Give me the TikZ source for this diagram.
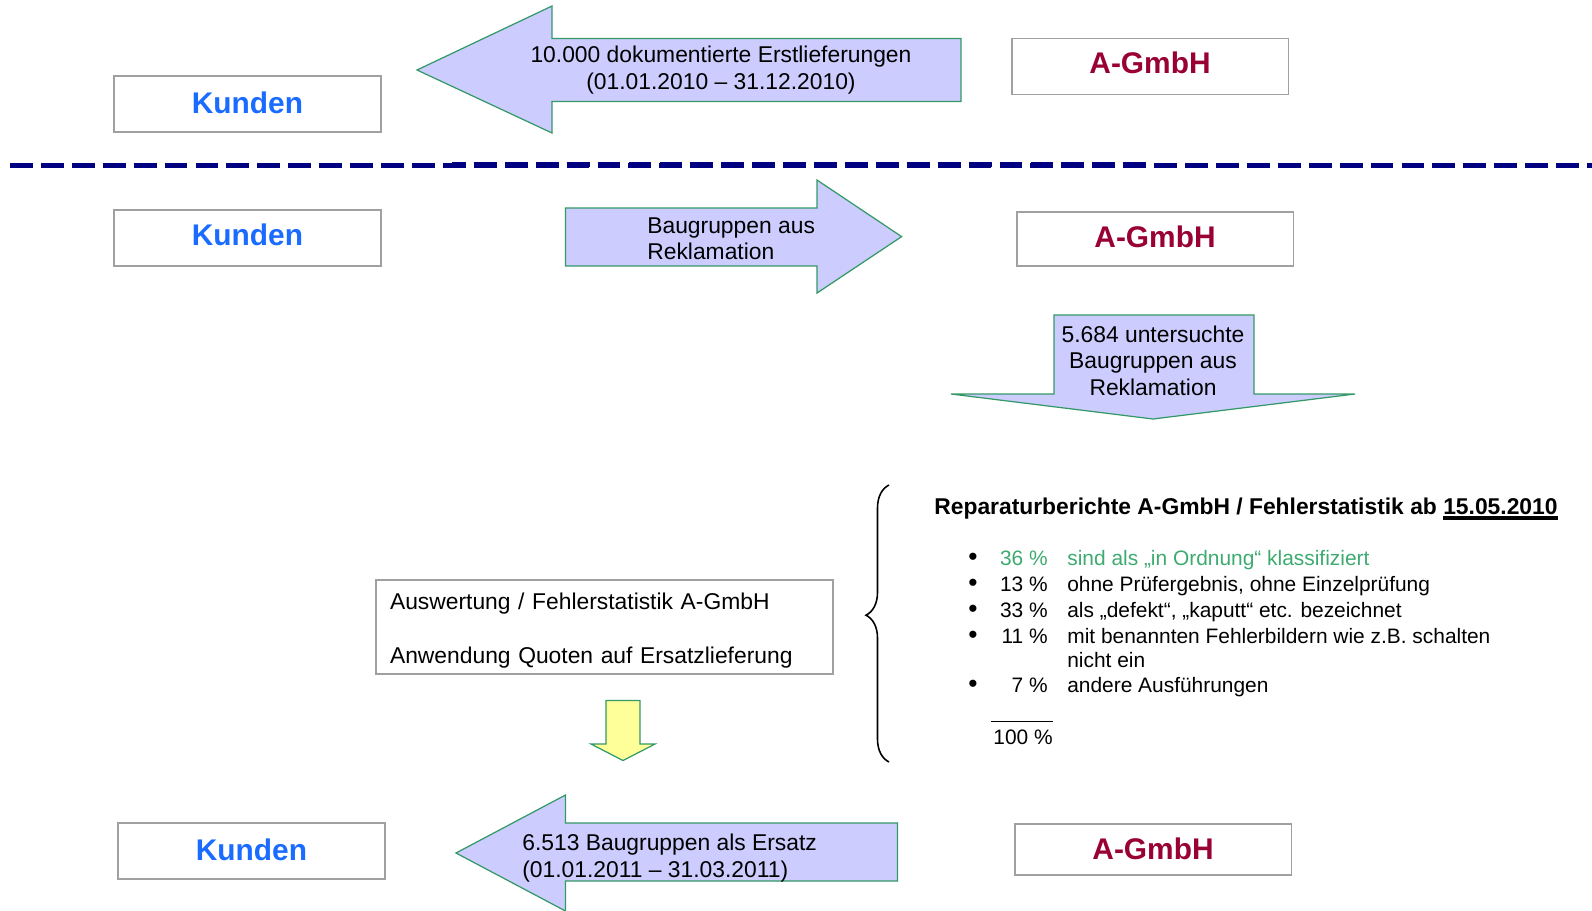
\documentclass[tikz,border=0pt]{standalone}
\usepackage{fontspec}
\setmainfont{Liberation Sans}
\usetikzlibrary{decorations.pathreplacing}

\definecolor{arrowfill}{HTML}{CCCCFF}
\definecolor{arrowline}{HTML}{339966}
\definecolor{kundenblue}{HTML}{1A6BFF}
\definecolor{gmbhred}{HTML}{990033}
\definecolor{boxgray}{HTML}{A0A0A0}
\definecolor{okgreen}{HTML}{3DAA70}
\definecolor{linenavy}{HTML}{000080}
\definecolor{hintyellow}{HTML}{FFFF99}

\newcommand{\ulthick}[1]{\leavevmode\vtop{\hbox{#1}\kern1.2pt\hrule height 1.8pt}}

\begin{document}
\begin{tikzpicture}[x=0.02cm, y=-0.02cm,
  every node/.style={inner sep=0pt},
  partner/.style={draw=boxgray, line width=1.1pt, minimum width=5.34cm, minimum height=1.12cm,
    text height=12.3pt, text depth=0pt, font=\bfseries\fontsize{17}{20}\selectfont},
  kunde/.style={partner, text=kundenblue},
  gmbh/.style={partner, text=gmbhred, minimum width=5.54cm},
  flow/.style={draw=arrowline, fill=arrowfill, line width=0.7pt},
  arrowtext/.style={font=\fontsize{13}{15}\selectfont},
  stat/.style={anchor=west, font=\fontsize{11.9}{14}\selectfont, text height=1.5ex, text depth=.25ex},
  navydash/.style={linenavy, dash pattern=on 13pt off 4.6pt}]
  \useasboundingbox (0,0) rectangle (1592,910);

  % Erstlieferung
  \node[kunde, text depth=1.3pt] (kunden1) at (247.5,104) {Kunden};
  \node[gmbh, text depth=4pt] (gmbh1) at (1150,66.5) {A-GmbH};
  \draw[flow] (417,70) -- (552,6) -- (552,38.6) -- (961,38.6) -- (961,101.5) -- (552,101.5) -- (552,133) -- cycle;
  \node[arrowtext, align=center] (erst) at (721,70) {10.000 dokumentierte Erstlieferungen\\(01.01.2010 – 31.12.2010)};

  % Trennlinie
  \draw[navydash, line width=2.3pt] (10,165.5) -- (1592,165.5);
  \draw[navydash, line width=3.4pt, dash phase=251.5pt] (452,164.5) -- (1150,164.5);

  % Reklamation
  \node[kunde, text depth=3.4pt] (kunden2) at (247.5,238) {Kunden};
  \node[gmbh, minimum height=1.08cm, text depth=2.3pt] (gmbh2) at (1155,239) {A-GmbH};
  \draw[flow] (565.5,208) -- (817,208) -- (817,180) -- (901.6,236.6) -- (817,293) -- (817,266) -- (565.5,266) -- cycle;
  \node[arrowtext, align=left, anchor=west] (rekl) at (647,239) {Baugruppen aus\\Reklamation};

  \draw[flow] (1054,315) -- (1254,315) -- (1254,394) -- (1355,394) -- (1153,419) -- (951,394) -- (1054,394) -- cycle;
  \node[arrowtext, align=center] (unters) at (1153,360.5) {5.684 untersuchte\\Baugruppen aus\\Reklamation};

  % Fehlerstatistik
  \node[anchor=base west, font=\bfseries\fontsize{13}{15}\selectfont] (bericht) at (934,514)
    {Reparaturberichte A-GmbH / Fehlerstatistik ab \ulthick{15.05.2010}};
  \foreach \y/\pct/\txt/\col [count=\i] in {
      560/36/{sind als „in Ordnung“ klassifiziert}/okgreen,
      586/13/{ohne Prüfergebnis, ohne Einzelprüfung}/black,
      612/33/{als „defekt“, „kaputt“ etc. bezeichnet}/black,
      638/11/{mit benannten Fehlerbildern wie z.B. schalten}/black,
      687/7/{andere Ausführungen}/black} {
    \node[stat, anchor=center, font=\fontsize{15}{16}\selectfont] (dot\i) at (973,\y) {\textbullet};
    \node[stat, anchor=east, text=\col] (pct\i) at (1048,\y) {\pct~\%};
    \node[stat, text=\col] (txt\i) at (1067,\y) {\txt};
  }
  \node[stat] (txt4b) at (1067,662) {nicht ein};
  \node[stat, anchor=east] (summe) at (1053,739) {100~\%};
  \draw[line width=0.8pt] ([yshift=5pt,xshift=-1pt]summe.north west) -- ([yshift=5pt]summe.north east);
  \draw[line width=0.9pt, decorate, decoration={brace, amplitude=0.46cm, aspect=0.53}] (889,762) -- (889,485);

  \node[draw=boxgray, line width=1.1pt, minimum width=9.14cm, minimum height=1.88cm, text width=8.58cm,
    align=left, inner xsep=0.28cm, font=\fontsize{13}{30.2}\selectfont] (auswertung) at (604.5,627)
    {\rule{0pt}{13.5pt}Auswertung / Fehlerstatistik A-GmbH\\Anwendung Quoten auf Ersatzlieferung};
  \draw[flow, fill=hintyellow] (606,700.5) -- (640,700.5) -- (640,744) -- (655,744) -- (623,760.5) -- (591,744) -- (606,744) -- cycle;

  % Ersatzlieferung
  \node[kunde, text depth=1.3pt] (kunden3) at (251.5,851) {Kunden};
  \node[gmbh, minimum height=1.02cm, text depth=1.1pt] (gmbh3) at (1153,849.5) {A-GmbH};
  \draw[flow] (456,853) -- (565.5,795) -- (565.5,823) -- (897.5,823) -- (897.5,881) -- (565.5,881) -- (565.5,911) -- cycle;
  \node[arrowtext, align=left, anchor=west] (ersatz) at (522,858) {6.513 Baugruppen als Ersatz\\(01.01.2011 – 31.03.2011)};
\end{tikzpicture}
\end{document}
